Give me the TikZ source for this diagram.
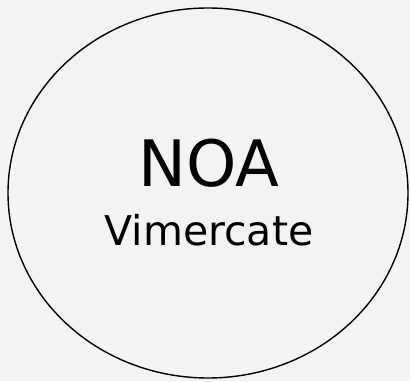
\documentclass[tikz,border=0pt]{standalone}
\usepackage{fontspec}
\setmainfont{DejaVu Sans}
\usetikzlibrary{shapes.geometric}
\definecolor{bg}{HTML}{F2F3F2}
\tikzset{
  site/.style={ellipse, draw=black, line width=1.4pt, minimum width=400pt, minimum height=370pt, inner sep=0pt},
  title/.style={font=\fontsize{64}{64}\selectfont, anchor=base, inner sep=0pt},
  subtitle/.style={font=\fontsize{41}{41}\selectfont, anchor=base, inner sep=0pt}
}
\begin{document}
\begin{tikzpicture}[x=1pt,y=1pt]
  \fill[bg] (0,0) rectangle (410,381);
  \useasboundingbox (0,0) rectangle (410,381);
  \node[site] (noa) at (208,188) {};
  \node[title] (name) at (209,194) {NOA};
  \node[subtitle] (city) at (209,136) {Vimercate};
\end{tikzpicture}
\end{document}
